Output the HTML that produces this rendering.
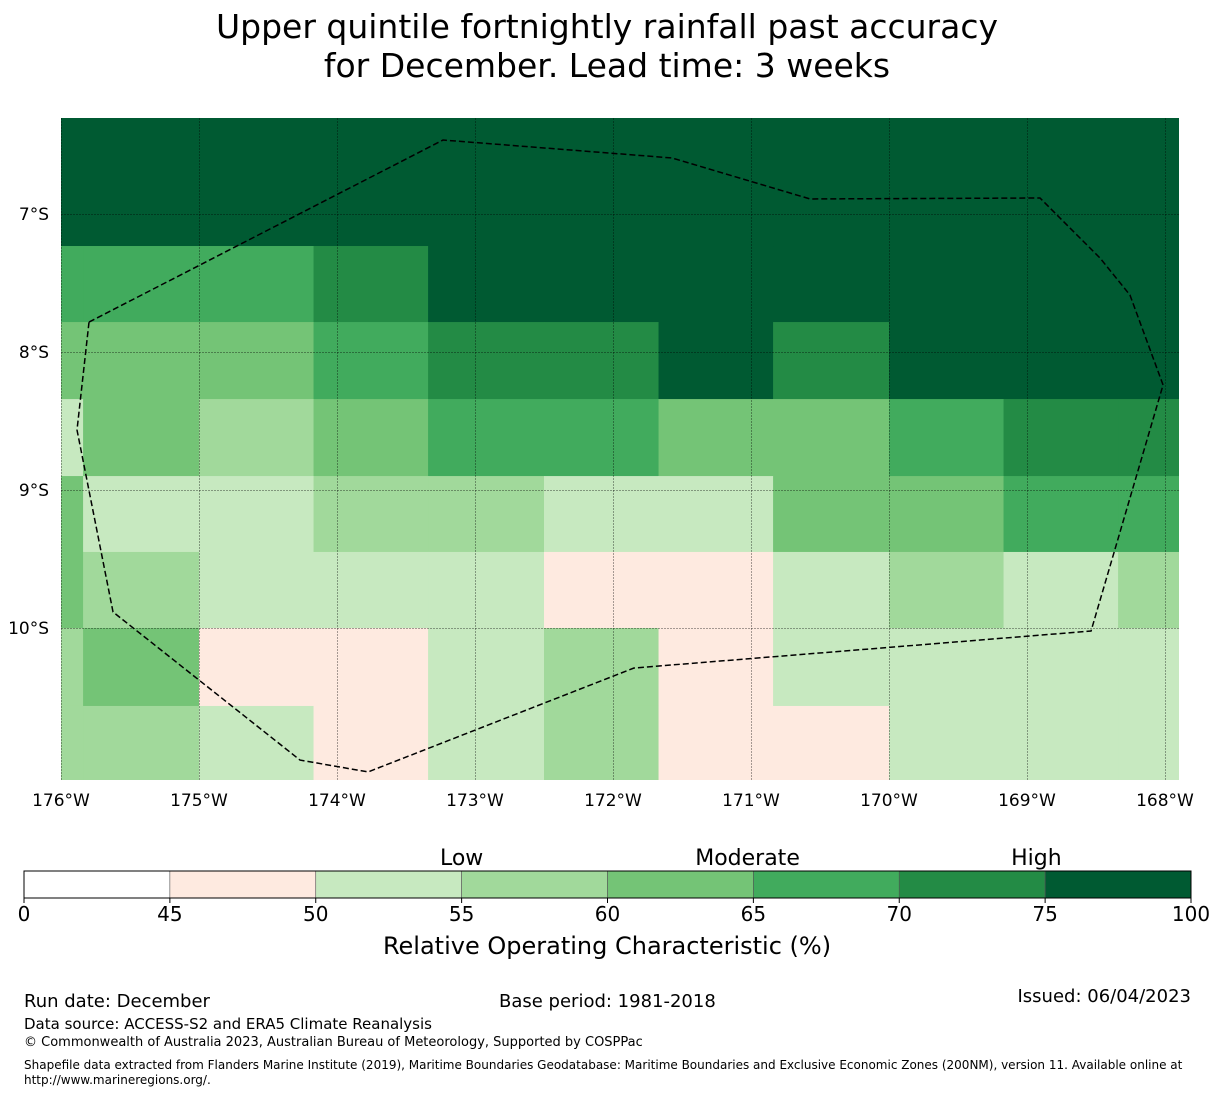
<!DOCTYPE html>
<html><head><meta charset="utf-8"><style>
html,body{margin:0;padding:0;background:#fff;}
body{width:1215px;height:1095px;overflow:hidden;font-family:"DejaVu Sans","Liberation Sans",sans-serif;}
svg text{font-family:"DejaVu Sans","Liberation Sans",sans-serif;}
</style></head><body>
<svg id="chart" width="1215" height="1095" xmlns="http://www.w3.org/2000/svg">
<g id="titles">
<text x="607" y="38" font-size="33" text-anchor="middle">Upper quintile fortnightly rainfall past accuracy</text>
<text x="607" y="77" font-size="33" text-anchor="middle">for December. Lead time: 3 weeks</text>
</g>
<defs><clipPath id="mapclip"><rect x="61" y="118" width="1118" height="662"/></clipPath></defs>
<g id="map" clip-path="url(#mapclip)"></g>
<g id="axes"></g>
<g id="cbar"></g>
<g font-size="16">
<text x="24" y="1007" font-size="18">Run date: December</text>
<text x="499" y="1007" font-size="18">Base period: 1981-2018</text>
<text x="1191" y="1002" font-size="18" text-anchor="end">Issued: 06/04/2023</text>
<text x="24" y="1029" font-size="15">Data source: ACCESS-S2 and ERA5 Climate Reanalysis</text>
<text x="24" y="1046" font-size="13">© Commonwealth of Australia 2023, Australian Bureau of Meteorology, Supported by COSPPac</text>
<text x="24" y="1069" font-size="12">Shapefile data extracted from Flanders Marine Institute (2019), Maritime Boundaries Geodatabase: Maritime Boundaries and Exclusive Economic Zones (200NM), version 11. Available online at</text>
<text x="24" y="1084" font-size="12">http://www.marineregions.org/.</text>
</g>
</svg>
<script>
// Data
const lonEdges = [176.0, 175.84, 175.0, 174.17, 173.34, 172.5, 171.67, 170.84, 170.0, 169.17, 168.34, 167.89];
const latEdges = [6.30, 7.232, 7.783, 8.341, 8.899, 9.449, 10.0, 10.565, 11.10];
const rocValues = [
 [77,77,77,77,77,77,77,77,77,77,77],
 [67,67,67,72,77,77,77,77,77,77,77],
 [62,62,62,67,72,72,77,72,77,77,77],
 [52,62,57,62,67,67,62,62,67,72,72],
 [62,52,52,57,57,52,52,62,62,67,67],
 [62,57,52,52,52,47,47,52,57,52,57],
 [57,62,47,47,52,57,47,52,52,52,52],
 [57,57,52,47,52,57,47,47,52,52,52]
];
const eezLon = [175.797,173.232,171.572,170.572,168.906,168.471,168.254,168.014,168.536,171.848,173.775,174.268,175.623,175.884,175.797];
const eezLat = [7.783,6.464,6.594,6.891,6.884,7.319,7.587,8.239,10.022,10.290,11.043,10.957,9.884,8.565,7.783];
const lonTicks = [176,175,174,173,172,171,170,169,168];
const latTicks = [7,8,9,10];
const cbarBounds = [0,45,50,55,60,65,70,75,100];
const cbarColors = ['#ffffff','#feeae0','#c7e9c0','#a1d99b','#74c476','#41ab5d','#238b45','#005a32'];
const cbarCategories = ['Low','Moderate','High'];
const cbarCategoryPos = [55,64.8,74.7];

const NS='http://www.w3.org/2000/svg';
const X = lon => 61 + (176 - lon) * 138;
const Y = lat => 214 + (lat - 7) * 138;
function colorFor(v){for(let i=cbarBounds.length-2;i>=0;i--){if(v>=cbarBounds[i])return cbarColors[i];}return cbarColors[0];}
function mk(tag, attrs, parent){const e=document.createElementNS(NS,tag);for(const k in attrs)e.setAttribute(k,attrs[k]);parent.appendChild(e);return e;}

const map=document.getElementById('map');
rocValues.forEach((row,r)=>row.forEach((v,c)=>{
  const x0=X(lonEdges[c]),x1=X(lonEdges[c+1]),y0=Y(latEdges[r]),y1=Y(latEdges[r+1]);
  const e=mk('rect',{x:x0,y:y0,width:x1-x0+0.5,height:y1-y0+0.5,fill:colorFor(v)},map);
  
  
}));
lonTicks.forEach(l=>{const e=mk('line',{x1:Math.round(X(l))+0.5,x2:Math.round(X(l))+0.5,y1:118,y2:780,stroke:'#000','stroke-opacity':0.35,'stroke-width':1,'stroke-dasharray':'2,1'},map);
  });
latTicks.forEach(l=>{const e=mk('line',{x1:61,x2:1179,y1:Math.round(Y(l))+0.5,y2:Math.round(Y(l))+0.5,stroke:'#000','stroke-opacity':0.35,'stroke-width':1,'stroke-dasharray':'2,1'},map);
  });
const pts=eezLon.map((l,i)=>X(l)+','+Y(eezLat[i])).join(' ');
const eez=mk('polyline',{points:pts,fill:'none',stroke:'#000','stroke-width':1.5,'stroke-dasharray':'6,3'},map);



const axes=document.getElementById('axes');
lonTicks.forEach(l=>{const t=mk('text',{x:X(l),y:806,'font-size':17,'text-anchor':'middle'},axes);t.textContent=l+'°W';
  });
latTicks.forEach(l=>{const t=mk('text',{x:49,y:Y(l)+6,'font-size':17,'text-anchor':'end'},axes);t.textContent=l+'°S';
  });

const cb=document.getElementById('cbar');
const cx0=24,cx1=1191,segW=(cx1-cx0)/(cbarBounds.length-1);
const CX = v => { let i=0; while(i<cbarBounds.length-2 && v>cbarBounds[i+1]) i++; return cx0+(i+(v-cbarBounds[i])/(cbarBounds[i+1]-cbarBounds[i]))*segW; };
cbarColors.forEach((c,i)=>{const e=mk('rect',{x:CX(cbarBounds[i]),y:871,width:segW,height:27,fill:c,stroke:'#555','stroke-width':0.6},cb);
  });
mk('rect',{x:cx0,y:871,width:cx1-cx0,height:27,fill:'none',stroke:'#000','stroke-width':1},cb);
cbarBounds.forEach(b=>{mk('line',{x1:CX(b),x2:CX(b),y1:898,y2:903,stroke:'#000'},cb);
  const t=mk('text',{x:CX(b),y:921,'font-size':20,'text-anchor':'middle'},cb);t.textContent=b;
  });
cbarCategories.forEach((c,i)=>{const t=mk('text',{x:CX(cbarCategoryPos[i]),y:865,'font-size':22,'text-anchor':'middle'},cb);t.textContent=c;
  });
const ct=mk('text',{x:607,y:954,'font-size':24,'text-anchor':'middle'},cb);ct.textContent='Relative Operating Characteristic (%)';


</script>
</body></html>
